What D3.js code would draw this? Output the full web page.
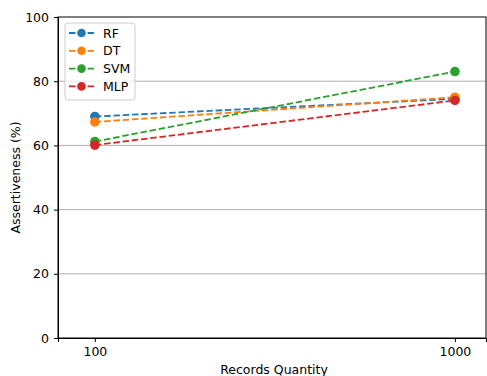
<!DOCTYPE html>
<html>
<head>
<meta charset="utf-8">
<script src="https://cdn.jsdelivr.net/npm/d3@7"></script>
<style>
  body { margin: 0; background: #fff; }
  text { font-family: "DejaVu Sans", sans-serif; }
</style>
</head>
<body>
<div id="chart"></div>
<script>
// data
const quantities = [100, 1000];
const seriesNames = ["RF", "DT", "SVM", "MLP"];
const rfValues = [69, 74.5];
const dtValues = [67.3, 75];
const svmValues = [61.2, 83];
const mlpValues = [60.1, 74];
const yTicks = [0, 20, 40, 60, 80, 100];
const colors = ["#1f77b4", "#ff7f0e", "#2ca02c", "#d62728"];

const allValues = [rfValues, dtValues, svmValues, mlpValues];

const W = 487, H = 376;
const margin = { top: 17, right: 1, bottom: 38, left: 58 };

const svg = d3.select("#chart").append("svg")
  .attr("width", W).attr("height", H);

const x = d3.scaleLog().domain([79, 1220]).range([margin.left, W - margin.right]);
const y = d3.scaleLinear().domain([0, 100]).range([H - margin.bottom, margin.top]);

// grid lines
svg.append("g")
  .selectAll("line")
  .data(yTicks.filter(t => t > 0 && t < 100))
  .enter().append("line")
  .attr("x1", margin.left).attr("x2", W - margin.right)
  .attr("y1", d => y(d)).attr("y2", d => y(d))
  .style("stroke", "#b0b0b0").style("stroke-width", 1);

// lines + points
const line = d3.line().x((d, i) => x(quantities[i])).y(d => y(d));

seriesNames.forEach((name, k) => {
  const vals = allValues[k];
  svg.append("path")
    .datum(vals)
    .attr("d", line)
    .style("fill", "none")
    .style("stroke", colors[k])
    .style("stroke-width", 1.8)
    .style("stroke-dasharray", "6.5,2.8");
  svg.append("g").selectAll("circle")
    .data(vals)
    .enter().append("circle")
    .attr("cx", (d, i) => x(quantities[i]))
    .attr("cy", d => y(d))
    .attr("r", 4.8)
    .style("fill", colors[k]);
});

// axes
const xAxis = d3.axisBottom(x).tickValues(quantities).tickFormat(d3.format("d")).tickSizeOuter(0).tickSize(4).tickPadding(5);
const yAxis = d3.axisLeft(y).tickValues(yTicks).tickSizeOuter(0).tickSize(4).tickPadding(5);

const gx = svg.append("g").attr("transform", `translate(0,${H - margin.bottom})`).call(xAxis);
const gy = svg.append("g").attr("transform", `translate(${margin.left},0)`).call(yAxis);
[gx, gy].forEach(g => {
  g.selectAll("text").style("font-size", "12.5px").style("fill", "#000").style("font-family", "DejaVu Sans");
  g.selectAll("line").style("stroke", "#000");
  g.select(".domain").style("stroke", "#000");
});

// frame
svg.append("rect")
  .attr("x", margin.left).attr("y", margin.top)
  .attr("width", W - margin.right - margin.left)
  .attr("height", H - margin.bottom - margin.top)
  .style("fill", "none").style("stroke", "#000").style("stroke-width", 1);

// axis labels
svg.append("text")
  .attr("x", 274).attr("y", 374)
  .attr("text-anchor", "middle").style("font-size", "12.5px")
  .text("Records Quantity");
svg.append("text")
  .attr("transform", `translate(20,${(margin.top + H - margin.bottom) / 2}) rotate(-90)`)
  .attr("text-anchor", "middle").style("font-size", "12.5px")
  .text("Assertiveness (%)");

// legend
const legend = svg.append("g").attr("transform", "translate(65,23)");
legend.append("rect")
  .attr("width", 70).attr("height", 77).attr("rx", 3)
  .style("fill", "#fff").style("fill-opacity", 0.8)
  .style("stroke", "#ccc").style("stroke-width", 1);
seriesNames.forEach((name, k) => {
  const g = legend.append("g").attr("transform", `translate(0,${10 + k * 17.8})`);
  g.append("line").attr("x1", 4).attr("x2", 29).attr("y1", 0).attr("y2", 0)
    .style("stroke", colors[k]).style("stroke-width", 1.8).style("stroke-dasharray", "6.5,2.8");
  g.append("circle").attr("cx", 16.5).attr("cy", 0).attr("r", 4.3).style("fill", colors[k]);
  g.append("text").attr("x", 38).attr("y", 4.5).style("font-size", "12.5px").text(name);
});
</script>
</body>
</html>
